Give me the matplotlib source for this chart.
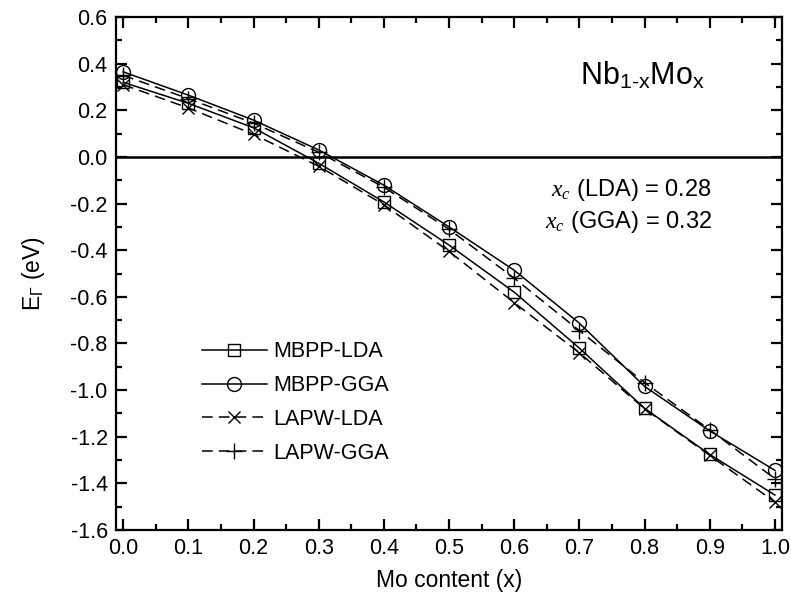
import numpy as np
import matplotlib
matplotlib.use('Agg')
import matplotlib.pyplot as plt
from matplotlib.ticker import MultipleLocator, FormatStrFormatter

plt.rcParams['font.family'] = ['Liberation Sans', 'DejaVu Sans']
plt.rcParams['mathtext.fontset'] = 'custom'
plt.rcParams['mathtext.rm'] = 'Liberation Sans'
plt.rcParams['mathtext.it'] = 'Liberation Serif:italic'

# data
x = [0.0, 0.1, 0.2, 0.3, 0.4, 0.5, 0.6, 0.7, 0.8, 0.9, 1.0]
mbpp_lda = [0.32, 0.23, 0.125, -0.027, -0.193, -0.378, -0.58, -0.82, -1.078, -1.276, -1.45]
mbpp_gga = [0.365, 0.265, 0.158, 0.03, -0.121, -0.30, -0.486, -0.713, -0.984, -1.175, -1.344]
lapw_lda = [0.31, 0.21, 0.097, -0.04, -0.205, -0.405, -0.625, -0.84, -1.08, -1.28, -1.48]
lapw_gga = [0.35, 0.25, 0.145, 0.02, -0.13, -0.31, -0.52, -0.745, -0.968, -1.17, -1.38]

fig = plt.figure(figsize=(7.91, 6.09), dpi=100)
ax = fig.add_axes([0.1467, 0.1297, 0.842, 0.8423])

dash = (0, (7, 4))
ax.plot(x, mbpp_lda, 'k-', marker='s', mfc='none', ms=9, mew=1, lw=1.1, label='MBPP-LDA')
ax.plot(x, mbpp_gga, 'k-', marker='o', mfc='none', ms=10, mew=1, lw=1.1, label='MBPP-GGA')
ax.plot(x, lapw_lda, 'k', ls=dash, marker='x', ms=9, mew=1, lw=1.1, label='LAPW-LDA')
ax.plot(x, lapw_gga, 'k', ls=dash, marker='+', ms=11, mew=1, lw=1.1, label='LAPW-GGA')

ax.axhline(0, color='k', lw=1.8)

ax.set_xlim(-0.011, 1.011)
ax.set_ylim(-1.6, 0.6)
ax.xaxis.set_major_locator(MultipleLocator(0.1))
ax.xaxis.set_minor_locator(MultipleLocator(0.05))
ax.yaxis.set_major_locator(MultipleLocator(0.2))
ax.yaxis.set_minor_locator(MultipleLocator(0.1))
ax.xaxis.set_major_formatter(FormatStrFormatter('%.1f'))
ax.yaxis.set_major_formatter(FormatStrFormatter('%.1f'))
ax.tick_params(which='both', direction='in', top=True, right=True, width=1.6, labelsize=15.5)
ax.tick_params(which='major', length=8, pad=6)
ax.tick_params(which='minor', length=4.5)
for s in ax.spines.values():
    s.set_linewidth(1.6)

ax.set_xlabel('Mo content (x)', fontsize=16.5, labelpad=7)
ax.set_ylabel(r'E$_\Gamma$ (eV)', fontsize=16.5, labelpad=17)

ax.text(0.79, 0.885, r'Nb$_{\text{1-x}}$Mo$_\mathrm{x}$', transform=ax.transAxes,
        fontsize=22, ha='center', va='center')
ax.text(0.895, 0.663, r'$x_c$ (LDA) = 0.28', transform=ax.transAxes,
        fontsize=17, ha='right', va='center')
ax.text(0.895, 0.601, r'$x_c$ (GGA) = 0.32', transform=ax.transAxes,
        fontsize=17, ha='right', va='center')

ax.legend(loc='upper left', bbox_to_anchor=(0.1, 0.406), frameon=False, fontsize=15.5,
          handlelength=3.0, handletextpad=0.3, labelspacing=0.6)

fig.savefig('out.png', dpi=100)
